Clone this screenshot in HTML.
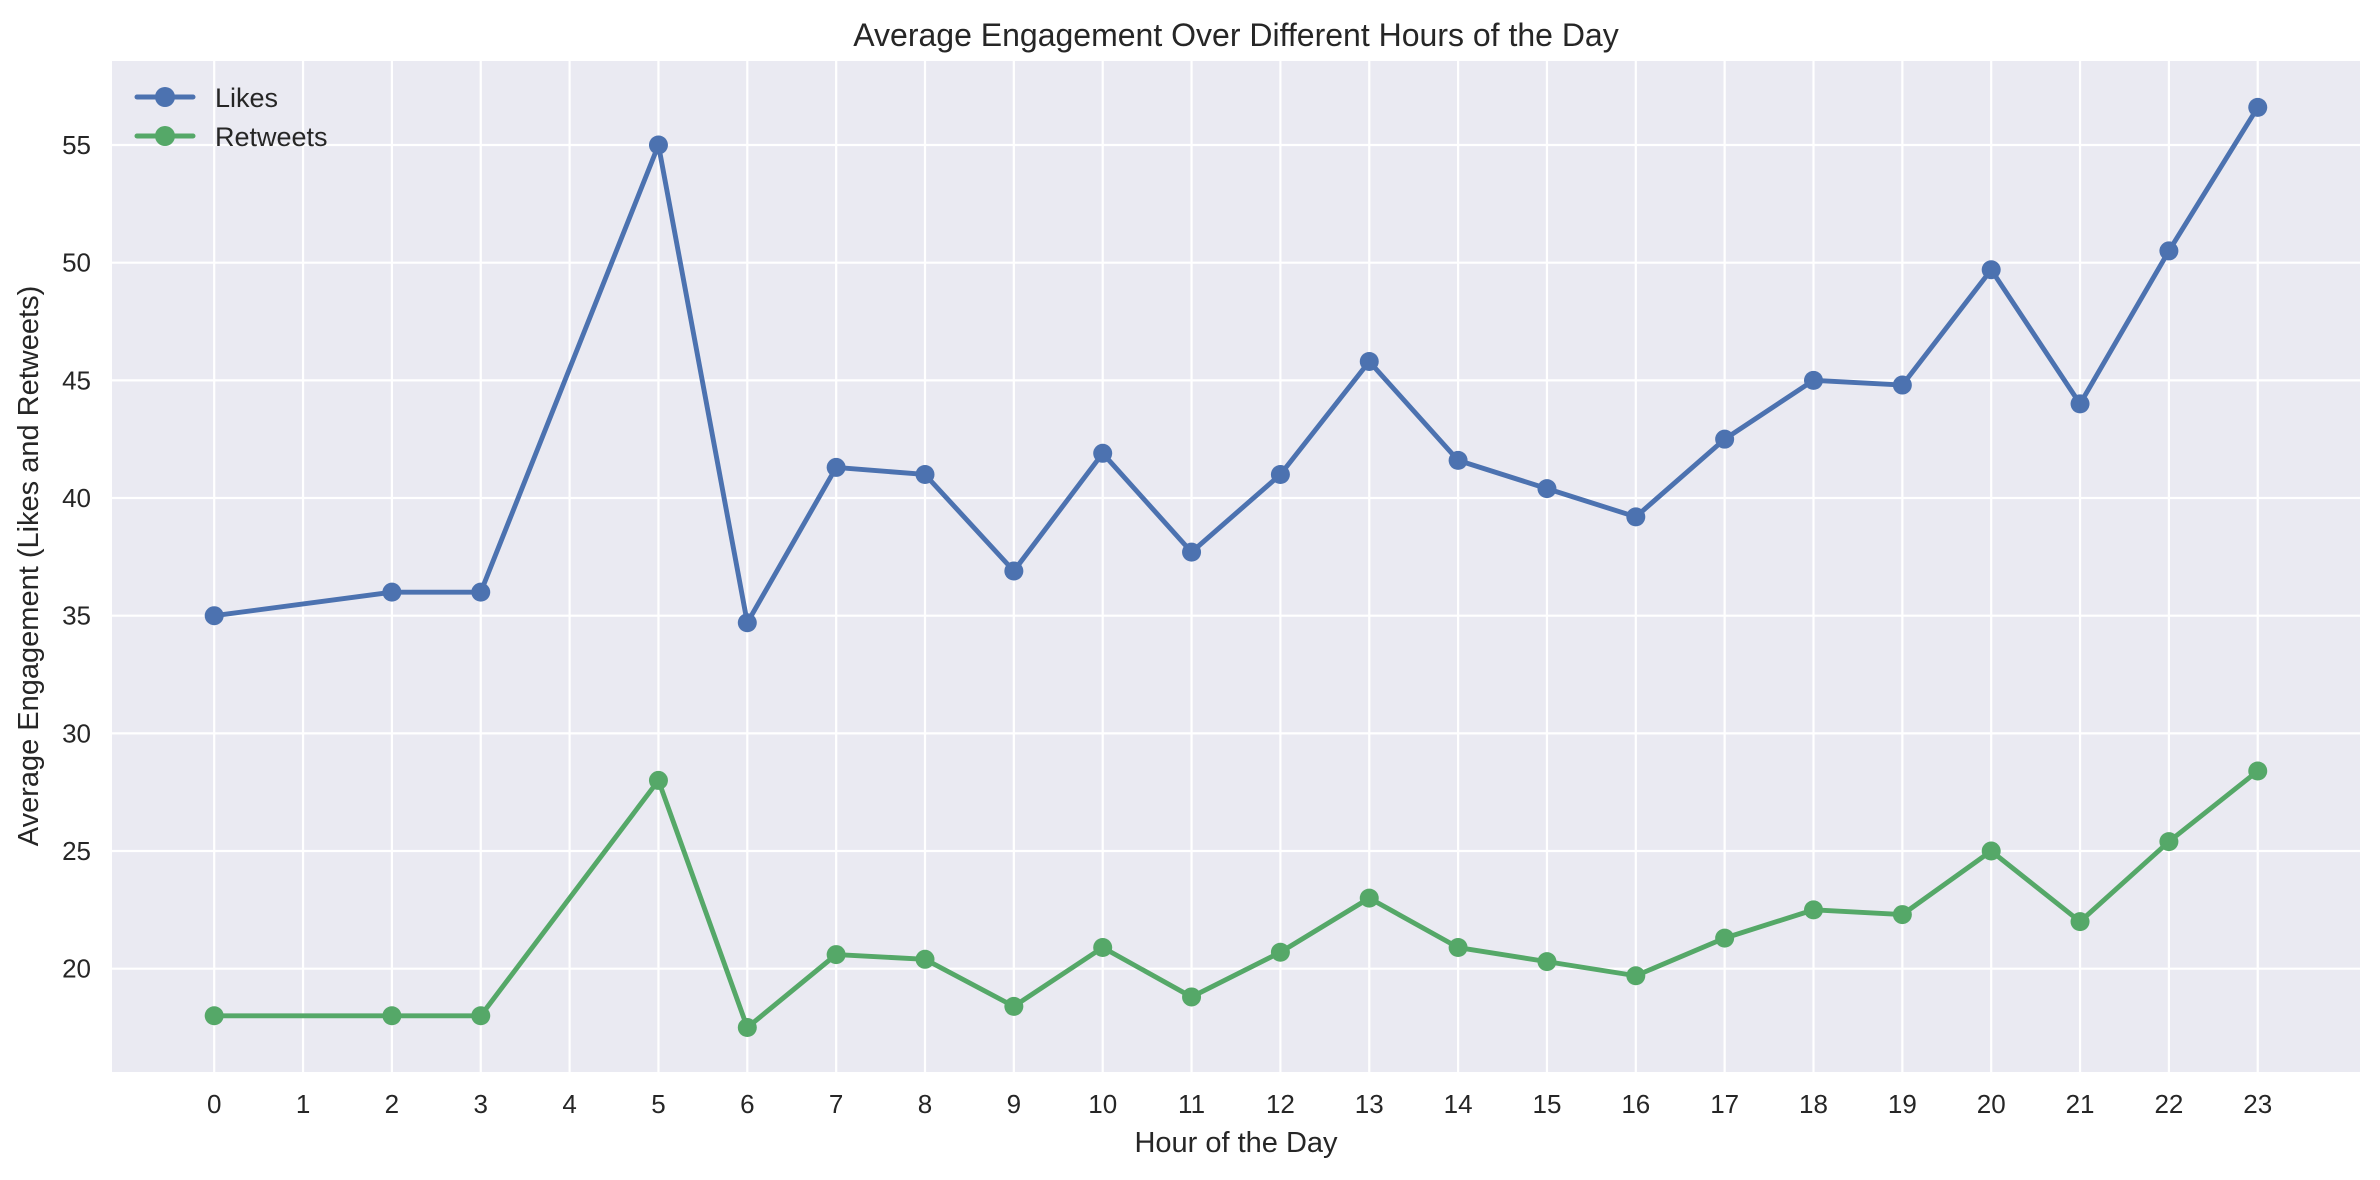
<!DOCTYPE html>
<html><head><meta charset="utf-8"><style>
html,body{margin:0;padding:0;background:#fff}
svg{display:block;font-family:"Liberation Sans",sans-serif}
</style></head><body>
<svg id="c" width="2380" height="1180" xmlns="http://www.w3.org/2000/svg">
<rect x="112" y="61" width="2248" height="1011" fill="#eaeaf2"/>
<g id="grid"></g><g id="ticks"></g><g id="series"></g>
<text x="1236" y="46" font-size="32" fill="#262626" text-anchor="middle">Average Engagement Over Different Hours of the Day</text>
<text x="1236" y="1152" font-size="29" fill="#262626" text-anchor="middle">Hour of the Day</text>
<text transform="translate(38,566) rotate(-90)" font-size="29" fill="#262626" text-anchor="middle">Average Engagement (Likes and Retweets)</text>
<g>
<g>
<line x1="137" y1="97" x2="193" y2="97" stroke="#4c72b0" stroke-width="5" stroke-linecap="round"/>
<circle cx="165" cy="97" r="10" fill="#4c72b0"/>
<text x="215" y="107" font-size="27" fill="#262626">Likes</text></g>
<g>
<line x1="137" y1="136" x2="193" y2="136" stroke="#55a868" stroke-width="5" stroke-linecap="round"/>
<circle cx="165" cy="136" r="10" fill="#55a868"/>
<text x="215" y="146" font-size="27" fill="#262626">Retweets</text></g>
</g>
</svg>
<script>
const hours=[0,2,3,5,6,7,8,9,10,11,12,13,14,15,16,17,18,19,20,21,22,23];
const likes=[35,36,36,55,34.7,41.3,41,36.9,41.9,37.7,41,45.8,41.6,40.4,39.2,42.5,45,44.8,49.7,44,50.5,56.6];
const retweets=[18,18,18,28,17.5,20.6,20.4,18.4,20.9,18.8,20.7,23,20.9,20.3,19.7,21.3,22.5,22.3,25,22,25.4,28.4];
const xTicks=[0,1,2,3,4,5,6,7,8,9,10,11,12,13,14,15,16,17,18,19,20,21,22,23];
const yTicks=[20,25,30,35,40,45,50,55];
const NS="http://www.w3.org/2000/svg";
function X(v){return 214.2+v*88.85;}
function Y(v){return 968.7-(v-20)*23.534;}
function mk(t,a,p){const e=document.createElementNS(NS,t);for(const k in a)e.setAttribute(k,a[k]);p.appendChild(e);return e;}
const g=document.getElementById('grid'),tk=document.getElementById('ticks'),s=document.getElementById('series');
xTicks.forEach(v=>{
 const l=mk('line',{x1:X(v),x2:X(v),y1:61,y2:1072,stroke:'#fff','stroke-width':2.2},g);
 
 
 const t=mk('text',{x:X(v),y:1113,'font-size':26,fill:'#262626','text-anchor':'middle'},tk);t.textContent=v;
 
 
});
yTicks.forEach(v=>{
 const l=mk('line',{x1:112,x2:2360,y1:Y(v),y2:Y(v),stroke:'#fff','stroke-width':2.2},g);
 
 
 const t=mk('text',{x:91,y:Y(v)+9,'font-size':26,fill:'#262626','text-anchor':'end'},tk);t.textContent=v;
 
 
});
function series(vals,col,name){
 const gg=mk('g',{},s);
 
 
 const p=mk('polyline',{points:hours.map((h,i)=>X(h)+','+Y(vals[i])).join(' '),fill:'none',stroke:col,'stroke-width':4.9,'stroke-linejoin':'round','stroke-linecap':'round'},gg);
 
 
 hours.forEach((h,i)=>{const c=mk('circle',{cx:X(h),cy:Y(vals[i]),r:9.5,fill:col},gg);
  
  });
}
series(likes,'#4c72b0','likes');
series(retweets,'#55a868','retweets');
</script>
</body></html>
